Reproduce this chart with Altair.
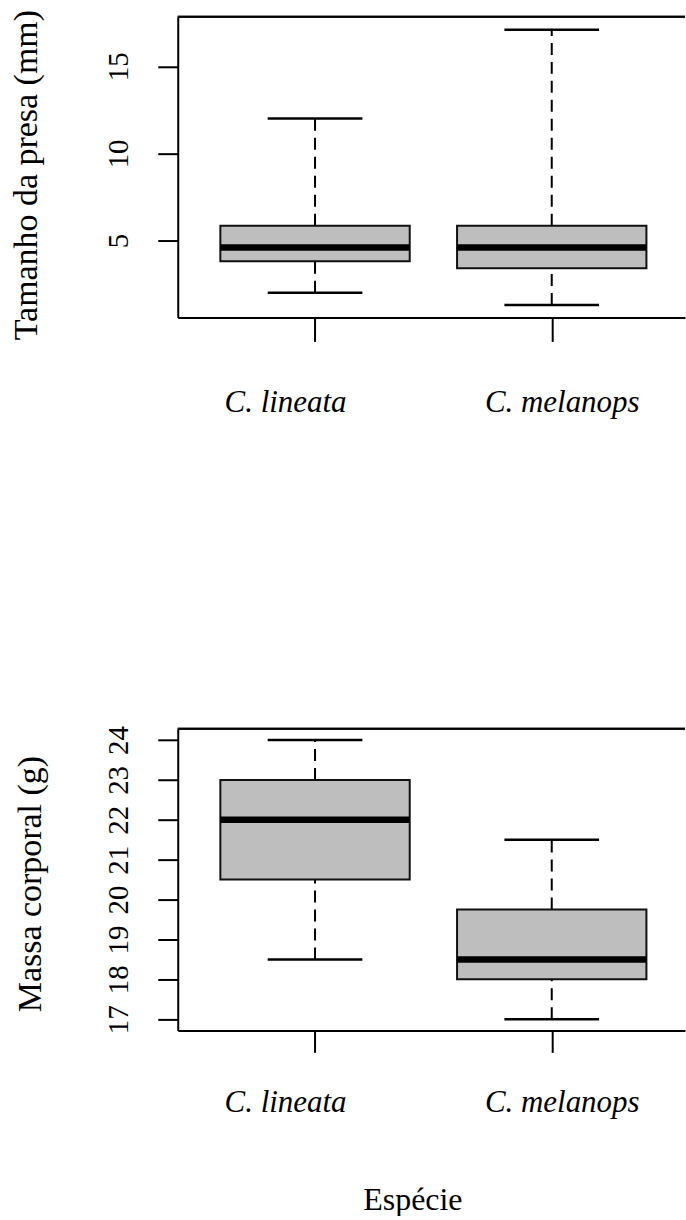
import altair as alt
import pandas as pd

species = ["C. lineata", "C. melanops"]

# Prey size (mm): lower whisker, Q1, median, Q3, upper whisker
prey_low = [2.0, 1.3]
prey_q1 = [3.8, 3.4]
prey_median = [4.6, 4.6]
prey_q3 = [5.85, 5.85]
prey_high = [12.0, 17.1]
prey_ticks = [5, 10, 15]

# Body mass (g)
mass_low = [18.5, 17.0]
mass_q1 = [20.5, 18.0]
mass_median = [22.0, 18.5]
mass_q3 = [23.0, 19.75]
mass_high = [24.0, 21.5]
mass_ticks = [17, 18, 19, 20, 21, 22, 23, 24]

FONT = "Liberation Serif"
XDOM = [0.42, 2.563]
label_expr = " : ".join(
    [f"datum.value == {i + 1} ? '{s}'" for i, s in enumerate(species[:-1])] + [f"'{species[-1]}'"]
)


def panel(low, q1, med, q3, high, ydom, yticks, ytitle, ytitle_x, ytitle_y,
          height, xlab_pad, xtick, xtitle=None):
    df = pd.DataFrame({
        "species": species,
        "pos": list(range(1, len(species) + 1)),
        "low": low, "q1": q1, "med": med, "q3": q3, "high": high,
    })
    xs = alt.Scale(domain=XDOM, nice=False, zero=False)
    ys = alt.Scale(domain=ydom, nice=False, zero=False)
    xaxis_kw = dict(
        values=list(range(1, len(species) + 1)), labelExpr=label_expr,
        tickSize=xtick, tickWidth=2, tickColor="black",
        domainWidth=2, domainColor="black", grid=False,
        labelFont=FONT, labelFontSize=31, labelFontStyle="italic",
        labelColor="black", labelPadding=xlab_pad, labelBaseline="alphabetic",
        labelOffset={"condition": {"test": "datum.value == 1", "value": -30}, "value": 10},
        labelFlush=False, labelOverlap=False,
    )
    if xtitle is not None:
        xaxis_kw.update(title=xtitle, titleFont=FONT, titleFontSize=32,
                        titleFontWeight="normal", titleColor="black",
                        titleX=235, titleY=179, titleBaseline="alphabetic",
                        titleAlign="center")
    else:
        xaxis_kw.update(title=None)
    xaxis = alt.Axis(**xaxis_kw)
    yaxis = alt.Axis(
        values=yticks, tickSize=20, tickWidth=2, tickColor="black",
        domainWidth=2, domainColor="black", grid=False,
        labelFont=FONT, labelFontSize=29, labelColor="black",
        labelAngle=270, labelAlign="center", labelBaseline="alphabetic",
        labelPadding=30, labelFlush=False, labelOverlap=False,
        title=ytitle, titleFont=FONT, titleFontSize=34, titleFontWeight="normal",
        titleColor="black", titleAngle=270, titleAlign="center",
        titleBaseline="alphabetic", titleX=ytitle_x, titleY=ytitle_y,
    )

    def X(f):
        return alt.X(f, type="quantitative", scale=xs, axis=xaxis)

    def Y(f):
        return alt.Y(f, type="quantitative", scale=ys, axis=yaxis)

    base = alt.Chart(df).transform_calculate(
        box_lo="datum.pos - 0.4", box_hi="datum.pos + 0.4",
        cap_lo="datum.pos - 0.2", cap_hi="datum.pos + 0.2",
    )
    whisk_up = base.mark_rule(color="black", strokeWidth=2, strokeDash=[12, 7]).encode(
        x=X("pos"), y=Y("q3"), y2="high")
    whisk_dn = base.mark_rule(color="black", strokeWidth=2, strokeDash=[12, 7]).encode(
        x=X("pos"), y=Y("low"), y2="q1")
    cap_up = base.mark_rule(color="black", strokeWidth=2.5).encode(
        x=X("cap_lo"), x2="cap_hi", y=Y("high"))
    cap_dn = base.mark_rule(color="black", strokeWidth=2.5).encode(
        x=X("cap_lo"), x2="cap_hi", y=Y("low"))
    box = base.mark_rect(fill="#bebebe", stroke="#111111", strokeWidth=2).encode(
        x=X("box_lo"), x2="box_hi", y=Y("q1"), y2="q3")
    median = base.mark_rule(color="black", strokeWidth=6.5).encode(
        x=X("box_lo"), x2="box_hi", y=Y("med"))
    frame_top = alt.Chart(df).mark_rule(color="black", strokeWidth=2).encode(
        x=alt.value(0), x2=alt.value("width"), y=alt.value(0))
    return alt.layer(whisk_up, whisk_dn, cap_up, cap_dn, box, median, frame_top).properties(
        width=508, height=height)


top = panel(prey_low, prey_q1, prey_median, prey_q3, prey_high,
            [0.58, 17.84], prey_ticks, "Tamanho da presa (mm)", -141, 158,
            301, 70, 24)
bottom = panel(mass_low, mass_q1, mass_median, mass_q3, mass_high,
               [16.72, 24.28], mass_ticks, "Massa corporal (g)", -137, 155,
               302, 59, 22, xtitle="Espécie")

chart = alt.vconcat(top, bottom, spacing=308).properties(
    padding={"left": 10, "top": 8, "right": 0, "bottom": 0},
    background="white",
).configure_view(stroke=None)

chart.save("out.html", embed_options={"renderer": "svg", "actions": False})
